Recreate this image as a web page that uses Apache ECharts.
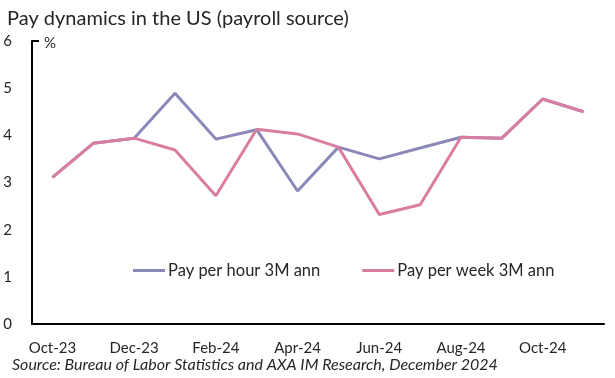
<!DOCTYPE html>
<html><head><meta charset="utf-8">
<script src="https://cdn.jsdelivr.net/npm/echarts@6/dist/echarts.min.js"></script>
<style>html,body{margin:0;padding:0;background:#fff}#c{width:615px;height:378px}</style>
</head><body><div id="c"></div>
<script>
const categories = ['Oct-23','Nov-23','Dec-23','Jan-24','Feb-24','Mar-24','Apr-24','May-24','Jun-24','Jul-24','Aug-24','Sep-24','Oct-24','Nov-24'];
const payPerHour = [3.11,3.83,3.94,4.89,3.92,4.12,2.82,3.75,3.50,3.73,3.96,3.94,4.77,4.50];
const payPerWeek = [3.11,3.83,3.94,3.69,2.72,4.13,4.03,3.75,2.32,2.53,3.96,3.94,4.77,4.50];
const seriesNames = ['Pay per hour 3M ann','Pay per week 3M ann'];
const titleText = 'Pay dynamics in the US (payroll source)';
const sourceText = 'Source: Bureau of Labor Statistics and AXA IM Research, December 2024';
const unitText = '%';

const font = 'Lato, "Open Sans", sans-serif';
const chart = echarts.init(document.getElementById('c'), null, {renderer:'canvas'});
chart.setOption({
  animation:false,
  backgroundColor:'#fff',
  title:{text:titleText,left:2,top:4,textStyle:{fontFamily:font,fontSize:20,fontWeight:'normal',color:'#262626'}},
  graphic:[
    {type:'text',left:12,top:357,style:{text:sourceText,fontFamily:font,fontSize:16,fontStyle:'italic',fill:'#262626'}},
    {type:'text',left:44,top:36,style:{text:unitText,fontFamily:font,fontSize:15,fill:'#262626'}}
  ],
  legend:{left:128,top:257,itemWidth:32,itemHeight:3,itemGap:42,icon:'rect',
    textStyle:{fontFamily:font,fontSize:16.5,color:'#262626',padding:[0,0,0,-2]},
    data:seriesNames},
  grid:{left:32,right:11,top:41,bottom:54,containLabel:false},
  xAxis:{type:'category',data:categories,boundaryGap:true,
    axisLine:{lineStyle:{color:'#000',width:2}},
    axisTick:{inside:true,length:5,lineStyle:{color:'#000',width:2}},
    axisLabel:{interval:1,fontFamily:font,fontSize:15,color:'#262626',margin:17}},
  yAxis:{type:'value',min:0,max:6,interval:1,
    axisLine:{show:true,lineStyle:{color:'#000',width:2}},
    axisTick:{show:true,inside:true,length:7,customValues:[6],lineStyle:{color:'#000',width:2}},
    splitLine:{show:false},
    axisLabel:{fontFamily:font,fontSize:15,color:'#262626',margin:20}},
  series:[
    {name:seriesNames[0],type:'line',data:payPerHour,symbol:'none',color:'#8b89b8',lineStyle:{width:3,color:'#8b89b8'}},
    {name:seriesNames[1],type:'line',data:payPerWeek,symbol:'none',color:'#d97ea0',lineStyle:{width:3,color:'#d97ea0'}}
  ]
});
</script></body></html>
